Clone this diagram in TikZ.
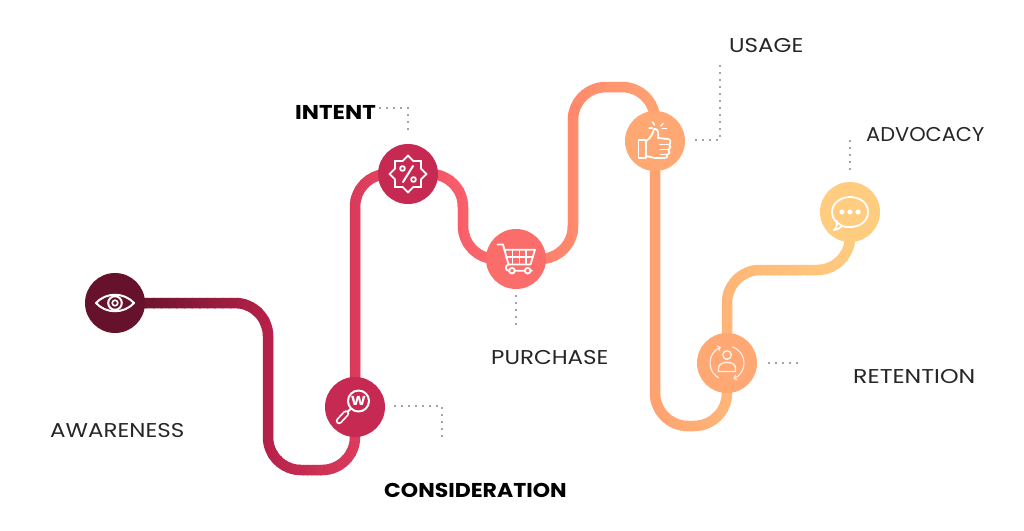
\documentclass[tikz,border=0pt]{standalone}
\usepackage{fontspec}
\setmainfont[FakeStretch=1.15,BoldFeatures={FakeStretch=1.1}]{Poppins}
\usepackage{tikz}
\usetikzlibrary{arrows.meta,backgrounds,shapes.geometric}

\definecolor{stopA}{HTML}{5E1029}
\definecolor{stopB}{HTML}{B8224A}
\definecolor{stopC}{HTML}{DC3C5C}
\definecolor{stopD}{HTML}{F9606A}
\definecolor{stopE}{HTML}{FF8A6C}
\definecolor{stopF}{HTML}{FFA271}
\definecolor{stopG}{HTML}{FFB678}
\definecolor{stopH}{HTML}{FFCD80}
\definecolor{stageRed}{HTML}{C62A52}

\begin{document}
\begin{tikzpicture}[x=1pt,y=-1pt,
		stage/.style={circle,minimum size=60pt,inner sep=0pt},
		road/.style={line width=10.5pt,rounded corners=33pt},
		leader/.style={draw=black!72,line width=1.8pt,line cap=round,dash pattern=on 0pt off 7pt},
		icon/.style={draw=white,line width=1.8pt,line join=round,line cap=round},
		tag/.style={font=\fontsize{20}{20}\selectfont,text=black!85,inner sep=0pt},
		boldtag/.style={font=\fontsize{20}{20}\selectfont\bfseries,text=black,inner sep=0pt}]
			\useasboundingbox (0,0) rectangle (1024,530);
			% stages
			\node[stage,fill=stopA!90!stopB] (awareness) at (115,303) {};
			\node[stage,fill=stageRed] (consideration) at (355,407) {};
			\node[stage,fill=stageRed] (intent) at (408,174) {};
			\node[stage,fill=stopD!70!stopE] (purchase) at (516,259) {};
			\node[stage,fill=stopF!70!stopG] (usage) at (655,141) {};
			\node[stage,fill=stopF!70!stopG] (retention) at (727,363) {};
			\node[stage,fill=stopH!96!stopG] (advocacy) at (850,212) {};
			% bends
			\coordinate (bendone) at (268,470);
			\coordinate (bendtwo) at (463,259);
			\coordinate (bendthree) at (573,87);
			\coordinate (bendfour) at (655,426);
			\coordinate (bendfive) at (727,270);
			\coordinate (bendsix) at (355,174);
			\def\roadpath{(awareness.center) -| (bendone) -| (bendsix) -| (bendtwo) -| (bendthree) -| (bendfour) -| (bendfive) -| (advocacy.center)}
			% road, coloured strip by strip
			\begin{pgfonlayer}{background}
				\foreach \xa/\xb/\ca/\cb in {115/268/stopA/stopB,268/355/stopB/stopC,355/463/stopC/stopD,463/573/stopD/stopE,573/655/stopE/stopF,655/727/stopF/stopG,727/860/stopG/stopH}{
					\foreach \t in {0,5,...,95}{
						\begin{scope}
							\clip ({\xa+(\xb-\xa)*\t/100},0) rectangle ({\xa+(\xb-\xa)*(\t+6)/100},530);
							\draw[road,draw=\cb!\t!\ca] \roadpath;
						\end{scope}
					}
				}
			\end{pgfonlayer}
			% labels
			\node[tag,anchor=west] (awarenesstag) at (50,431) {AWARENESS};
			\node[boldtag,anchor=west] (considerationtag) at (384,490) {CONSIDERATION};
			\node[boldtag,anchor=west] (intenttag) at (295,112) {\scalebox{1.04}[1]{INTENT}};
			\node[tag,anchor=west] (purchasetag) at (491,358) {PURCHASE};
			\node[tag,anchor=west] (usagetag) at (729,46) {USAGE};
			\node[tag,anchor=west] (retentiontag) at (853,377) {\scalebox{1.03}[1]{RETENTION}};
			\node[tag,anchor=west] (advocacytag) at (866,135) {\scalebox{.91}[1]{ADVOCACY}};
			% dotted leaders
			\coordinate (intenta) at (380,108); \coordinate (intentb) at (408,131);
			\coordinate (considera) at (395,406); \coordinate (considerb) at (442,440);
			\coordinate (purchasea) at (516,296); \coordinate (purchaseb) at (516,331);
			\coordinate (usagea) at (696,140); \coordinate (usageb) at (720,63);
			\coordinate (retaina) at (769,363); \coordinate (retainb) at (798,363);
			\coordinate (advocacya) at (850,141); \coordinate (advocacyb) at (850,170);
			\draw[leader] (intenta) -| (intentb);
			\draw[leader] (considera) -| (considerb);
			\draw[leader] (purchasea) -- (purchaseb);
			\draw[leader] (usagea) -| (usageb);
			\draw[leader] (retaina) -- (retainb);
			\draw[leader] (advocacya) -- (advocacyb);
			% eye
			\begin{scope}[shift={(awareness.center)}]
				\draw[icon,line width=2pt] (-19,0) .. controls (-9,-11) and (9,-11) .. (19,0) .. controls (9,11) and (-9,11) .. cycle;
				\draw[icon,line width=2pt] (0,0) circle (6.8);
				\draw[icon,line width=1.6pt] (0,0) circle (2.8);
			\end{scope}
			% magnifier
			\begin{scope}[shift={(consideration.center)}]
				\draw[icon,line width=2pt] (3.5,-6) circle (10.5);
				\draw[icon,line width=2pt] (-4,1.5) -- (-8,5.5);
				\draw[white,line width=6.5pt,line cap=round] (-9,6.5) -- (-16,14);
				\draw[stageRed,line width=3pt,line cap=round] (-9,6.5) -- (-16,14);
				\node[text=white,inner sep=0pt,font=\fontsize{13}{13}\selectfont\bfseries] (wmark) at (3.5,-6) {W};
			\end{scope}
			% percent badge
			\node[star,star points=8,star point ratio=1.32,minimum size=37pt,inner sep=0pt,draw=white,line width=1.8pt,line join=round] (badge) at (intent.center) {};
			\begin{scope}[shift={(intent.center)}]
				\draw[icon] (-5.5,-5.5) circle (2.4);
				\draw[icon] (5.5,5.5) circle (2.4);
				\draw[icon,line width=2pt] (-5,8) -- (5,-8);
			\end{scope}
			% cart
			\begin{scope}[shift={(purchase.center)}]
				\draw[icon] (-18.5,-14.5) -- (-13,-14.5) -- (-7.5,5.5) -- (14.5,5.5) -- (19,-9.3) -- (-12,-9.3);
				\draw[icon,line width=1.4pt] (-10.5,-2) -- (17,-2);
				\foreach \gx in {-3.3,3.3,10}{
					\draw[icon,line width=1.4pt] (\gx,-9.3) -- (\gx,5.5);
				}
				\draw[icon] (-7.5,5.5) .. controls (-11,6) and (-11,11.7) .. (-7.5,11.7) -- (16,11.7);
				\foreach \gx in {-4,11.7}{
					\draw[icon,fill=stopD!70!stopE] (\gx,11.7) circle (2.8);
				}
			\end{scope}
			% thumb
			\begin{scope}[shift={(usage.center)}]
				\draw[icon] (-16.5,-1) rectangle (-9,17);
				\draw[icon] (-9,0) .. controls (-4,-3) and (-2,-8) .. (-1,-12) .. controls (3,-13) and (4,-8) .. (3,-3) -- (13,-2) .. controls (16,-2) and (16,3) .. (14,3.5) .. controls (16,5) and (16,8) .. (13.5,8.5) .. controls (15,10) and (15,13) .. (12,13.5) .. controls (13,15) and (12,17) .. (9,17) -- (0,17) .. controls (-3,17) and (-6,15) .. (-9,15);
				\draw[icon,line width=1.4pt] (5,3.5) -- (14,3.5);
				\draw[icon,line width=1.4pt] (5,8.5) -- (13.5,8.5);
				\draw[icon,line width=1.4pt] (5,13.5) -- (12,13.5);
				\draw[icon,line width=1.4pt] (-6,-13) -- (-2.5,-13);
				\draw[icon,line width=1.4pt] (-2.5,-19) -- (-0.5,-16);
				\draw[icon,line width=1.4pt] (8,-17.5) -- (5.5,-15);
				\draw[icon,line width=1.4pt] (7,-12.5) -- (11.5,-12.5);
			\end{scope}
			% person and arrows
			\begin{scope}[shift={(retention.center)}]
				\draw[icon,draw=white!85!stopF,line width=1.1pt,-{Straight Barb[length=2.5pt,width=5pt]}] (119:17) arc (119:249:17);
				\draw[icon,draw=white!85!stopF,line width=1.1pt,-{Straight Barb[length=2.5pt,width=5pt]}] (-72:17) arc (-72:68:17);
				\draw[icon,draw=white!85!stopF,line width=1.4pt] (0,-8) circle (4.3);
				\draw[icon,draw=white!85!stopF,line width=1.4pt] (-8.5,8.5) -- (-8.5,5) .. controls (-8.5,-2.5) and (8.5,-2.5) .. (8.5,5) -- (8.5,8.5) -- cycle;
			\end{scope}
			% speech bubble
			\begin{scope}[shift={(advocacy.center)}]
				\draw[icon] (-9,13) .. controls (-14,11) and (-18,6) .. (-18,0) .. controls (-18,-9) and (-9,-15) .. (0,-15) .. controls (10,-15) and (18,-9) .. (18,0) .. controls (18,9) and (10,15) .. (0,15) .. controls (-3,15) and (-6,15) .. (-8,14) .. controls (-10,16) and (-13,18) .. (-16,18) .. controls (-13,16) and (-13,12) .. (-13,9);
				\foreach \dx in {-8,0,8}{
					\fill[white] (\dx,0) circle (2.6);
				}
			\end{scope}
		\end{tikzpicture}
\end{document}
